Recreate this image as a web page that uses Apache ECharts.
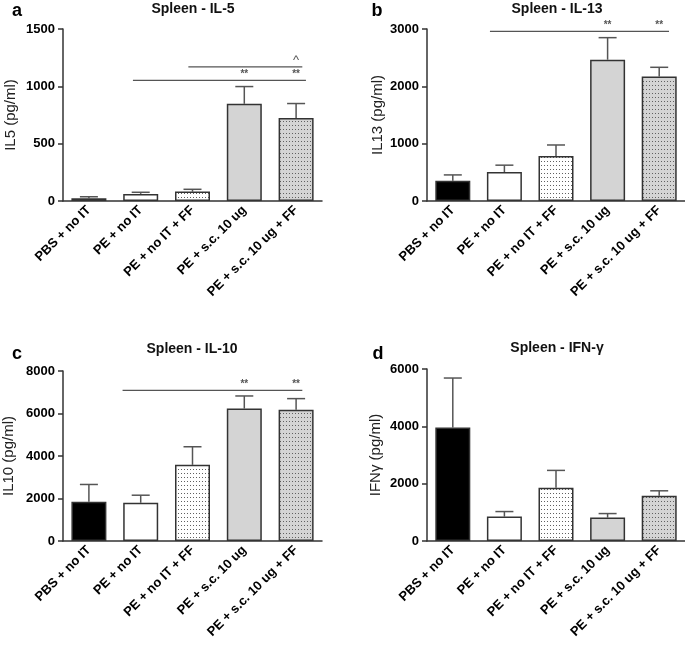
<!DOCTYPE html>
<html>
<head>
<meta charset="utf-8">
<script src="https://cdn.jsdelivr.net/npm/echarts@6/dist/echarts.min.js"></script>
<style>
html,body{margin:0;padding:0;background:#fff;}
#chart{width:685px;height:645px;}
</style>
</head>
<body>
<div id="chart"></div>
<script>
// ---- data ----
const categories = ['PBS + no IT', 'PE + no IT', 'PE + no IT + FF', 'PE + s.c. 10 ug', 'PE + s.c. 10 ug + FF'];

const il5Mean = [25, 62, 82, 848, 724];
const il5Err  = [12, 14, 20, 150, 126];
const il13Mean = [355, 505, 785, 2465, 2170];
const il13Err  = [100, 120, 192, 384, 162];
const il10Mean = [1850, 1800, 3585, 6235, 6180];
const il10Err  = [810, 355, 850, 590, 520];
const ifngMean = [3957, 852, 1856, 817, 1576];
const ifngErr  = [1728, 175, 607, 140, 175];

// significance bars: [fromPos, toPos, yValue]
const il5Sig  = [[0.85, 4.19, 1052], [1.92, 4.12, 1169]];
const il13Sig = [[0.72, 4.19, 2958]];
const il10Sig = [[0.65, 4.12, 7085]];
const ifngSig = [];
// significance marks: [pos, yValue, mark]
const il5Marks  = [[3, 1052, '**'], [4, 1052, '**'], [4, 1169, '^']];
const il13Marks = [[3, 2958, '**'], [4, 2958, '**']];
const il10Marks = [[3, 7085, '**'], [4, 7085, '**']];
const ifngMarks = [];

const yMax = [1500, 3000, 8000, 6000];
const yStep = [500, 1000, 2000, 2000];
const titles = ['Spleen - IL-5', 'Spleen - IL-13', 'Spleen - IL-10', 'Spleen - IFN-\u03b3'];
const yNames = ['IL5 (pg/ml)', 'IL13 (pg/ml)', 'IL10 (pg/ml)', 'IFN\u03b3 (pg/ml)'];
const letters = ['a', 'b', 'c', 'd'];

// ---- layout & style ----
const grids = [
  {left: 63, top: 29, width: 259, height: 172},
  {left: 427, top: 29, width: 258, height: 172},
  {left: 63, top: 371, width: 259, height: 170},
  {left: 427, top: 369, width: 258, height: 172}
];
const nameGaps = [45, 42, 47, 44];
const titlePos = [[193, 9], [557, 9], [192, 349], [557, 348]];
const letterPos = [[17, 11], [377, 11], [17, 354], [378, 354]];

const FONT = 'Liberation Sans, Arial, Helvetica, sans-serif';
const AX = '#333';

function dots(bg) {
  const c = document.createElement('canvas');
  c.width = 3; c.height = 4;
  const ctx = c.getContext('2d');
  ctx.fillStyle = bg; ctx.fillRect(0, 0, 3, 4);
  ctx.fillStyle = '#606060'; ctx.fillRect(1, 1, 1, 1);
  return {image: c, repeat: 'repeat'};
}
const barFills = ['#000000', '#ffffff', dots('#ffffff'), '#d4d4d4', dots('#d4d4d4')];

const panels = [
  {mean: il5Mean, err: il5Err, sig: il5Sig, marks: il5Marks},
  {mean: il13Mean, err: il13Err, sig: il13Sig, marks: il13Marks},
  {mean: il10Mean, err: il10Err, sig: il10Sig, marks: il10Marks},
  {mean: ifngMean, err: ifngErr, sig: ifngSig, marks: ifngMarks}
];

const option = {
  animation: false,
  backgroundColor: '#fff',
  grid: grids.map(g => Object.assign({containLabel: false}, g)),
  xAxis: [],
  yAxis: [],
  series: [],
  graphic: []
};

panels.forEach((p, k) => {
  option.xAxis.push({
    type: 'category', gridIndex: k, data: categories,
    axisLine: {onZero: false, lineStyle: {color: AX, width: 1.5}},
    axisTick: {alignWithLabel: true, length: 5, lineStyle: {color: AX, width: 1.5}},
    axisLabel: {rotate: 45, margin: 7, interval: 0, color: '#000', fontFamily: FONT, fontWeight: 'bold', fontSize: 13}
  });
  option.yAxis.push({
    type: 'value', gridIndex: k, min: 0, max: yMax[k], interval: yStep[k],
    name: yNames[k], nameLocation: 'middle', nameGap: nameGaps[k],
    nameTextStyle: {color: '#222', fontFamily: FONT, fontSize: 15},
    axisLine: {show: true, onZero: false, lineStyle: {color: AX, width: 1.5}},
    axisTick: {show: true, length: 5, lineStyle: {color: AX, width: 1.5}},
    splitLine: {show: false},
    axisLabel: {margin: 8, color: '#000', fontFamily: FONT, fontWeight: 'bold', fontSize: 13,
      formatter: v => String(v)}
  });
  option.series.push({
    type: 'bar', xAxisIndex: k, yAxisIndex: k, barWidth: 35,
    data: p.mean.map((v, i) => ({value: v, itemStyle: {color: barFills[i]}})),
    itemStyle: {borderColor: AX, borderWidth: 1.5}
  });
  option.series.push({
    type: 'custom', xAxisIndex: k, yAxisIndex: k, z: 1,
    data: p.mean.map((v, i) => [i, v, v + p.err[i]]),
    renderItem: function (params, api) {
      const b = api.coord([api.value(0), api.value(1)]);
      const t = api.coord([api.value(0), api.value(2)]);
      return {type: 'group', children: [
        {type: 'line', shape: {x1: b[0], y1: b[1], x2: t[0], y2: t[1]}, style: {stroke: '#555', lineWidth: 1.5}},
        {type: 'line', shape: {x1: t[0] - 9, y1: t[1], x2: t[0] + 9, y2: t[1]}, style: {stroke: '#555', lineWidth: 1.5}}
      ]};
    }
  });
});

// hidden continuous x axes for annotations
panels.forEach((p, k) => {
  const xi = option.xAxis.length;
  option.xAxis.push({type: 'value', gridIndex: k, min: -0.5, max: 4.5, show: false,
    axisLine: {onZero: false}});
  if (p.sig.length) {
    option.series.push({
      type: 'custom', xAxisIndex: xi, yAxisIndex: k, clip: false,
      data: p.sig,
      renderItem: function (params, api) {
        const a = api.coord([api.value(0), api.value(2)]);
        const b = api.coord([api.value(1), api.value(2)]);
        return {type: 'line', shape: {x1: a[0], y1: a[1], x2: b[0], y2: b[1]}, style: {stroke: '#555', lineWidth: 1.2}};
      }
    });
  }
  if (p.marks.length) {
    option.series.push({
      type: 'custom', xAxisIndex: xi, yAxisIndex: k, clip: false,
      data: p.marks,
      renderItem: function (params, api) {
        const c = api.coord([api.value(0), api.value(1)]);
        const txt = p.marks[params.dataIndex][2];
        const caret = txt === '^';
        return {type: 'text', x: c[0], y: c[1] - (caret ? 0 : 1),
          style: {text: txt, textAlign: 'center', textVerticalAlign: 'bottom',
            font: (caret ? '13px ' : 'bold 10px ') + FONT, fill: '#555'}};
      }
    });
  }
});

titles.forEach((t, k) => {
  option.graphic.push({type: 'text', x: titlePos[k][0], y: titlePos[k][1],
    style: {text: t, textAlign: 'center', textVerticalAlign: 'middle', font: 'bold 14px ' + FONT, fill: '#111'}});
  option.graphic.push({type: 'text', x: letterPos[k][0], y: letterPos[k][1],
    style: {text: letters[k], textAlign: 'center', textVerticalAlign: 'middle', font: 'bold 18px ' + FONT, fill: '#000'}});
});

const chart = echarts.init(document.getElementById('chart'), null, {renderer: 'canvas'});
chart.setOption(option);
</script>
</body>
</html>
